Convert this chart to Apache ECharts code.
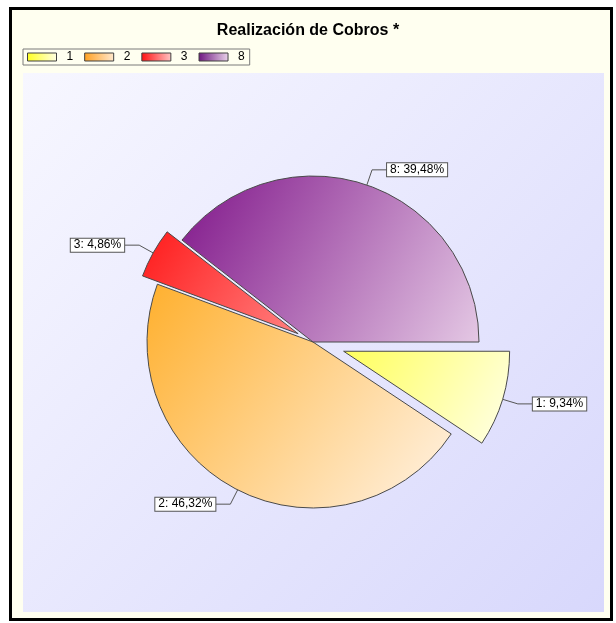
<!DOCTYPE html>
<html>
<head>
<meta charset="utf-8">
<title>Realización de Cobros</title>
<script src="https://cdn.jsdelivr.net/npm/echarts@6/dist/echarts.min.js"></script>
<style>
  html, body { margin: 0; padding: 0; background: #ffffff; }
  #chart { width: 616px; height: 623px; }
</style>
</head>
<body>
<div id="chart"></div>
<script>
// Collection categories and their share of the total (percent)
const categories = ['1', '2', '3', '8'];
const shares = [9.34, 46.32, 4.86, 39.48];

// Slice fills: [dark corner, light corner]
const sliceFill = {
  '1': ['#ffff5c', '#ffffe8'],
  '2': ['#ffb02e', '#fff3e6'],
  '3': ['#ff1a1a', '#ff8080'],
  '8': ['#80168a', '#e4c8e4']
};
// Legend swatch fills, shaded left to right
const swatchFill = {
  '1': ['#ffff20', '#ffffe4'],
  '2': ['#ffa020', '#ffe9cf'],
  '3': ['#ff1010', '#ffc4c4'],
  '8': ['#6e1680', '#ead4ea']
};

const G = echarts.graphic;
function diag(c) {
  return new G.LinearGradient(0, 0, 1, 1, [{ offset: 0, color: c[0] }, { offset: 1, color: c[1] }]);
}
function horiz(c) {
  return new G.LinearGradient(0, 0, 1, 0, [{ offset: 0, color: c[0] }, { offset: 1, color: c[1] }]);
}

function fmtPct(v) {
  return v.toFixed(2).replace('.', ',') + '%';
}

// Each pie layer draws only some slices; the others stay invisible so the
// angles still come from the full set of shares. Layers differ in how far
// their pulled-out slices are moved.
function pieLayer(shown, pulled, offset) {
  return {
    type: 'pie',
    center: [313, 342],
    radius: 166,
    startAngle: 0,
    clockwise: true,
    selectedMode: 'multiple',
    selectedOffset: offset,
    avoidLabelOverlap: false,
    silent: true,
    animation: false,
    itemStyle: { borderColor: '#4a4a4a', borderWidth: 1 },
    label: {
      show: true,
      position: 'outside',
      formatter: p => p.name + ': ' + fmtPct(p.value),
      fontFamily: 'Liberation Sans, Arial, sans-serif',
      fontSize: 12,
      lineHeight: 13,
      color: '#000',
      backgroundColor: '#ffffff',
      borderColor: '#555555',
      borderWidth: 1,
      padding: [0, 3, 0, 3],
      distanceToLabelLine: 0
    },
    labelLine: {
      show: true,
      length: 16,
      length2: 15,
      lineStyle: { color: '#555555', width: 1 }
    },
    emphasis: { disabled: true },
    data: categories.map((name, i) => {
      const item = { name: name, value: shares[i] };
      if (shown.indexOf(name) < 0) {
        item.itemStyle = { color: 'rgba(0,0,0,0)', borderWidth: 0 };
        item.label = { show: false };
        item.labelLine = { show: false };
        return item;
      }
      item.itemStyle = { color: diag(sliceFill[name]) };
      item.selected = pulled.indexOf(name) >= 0;
      return item;
    })
  };
}

const chart = echarts.init(document.getElementById('chart'), null, { renderer: 'canvas' });

chart.setOption({
  backgroundColor: '#ffffff',
  animation: false,
  title: {
    text: 'Realización de Cobros *',
    left: 'center',
    top: 23,
    padding: 0,
    textStyle: {
      fontFamily: 'Liberation Sans, Arial, sans-serif',
      fontSize: 16,
      fontWeight: 'bold',
      color: '#000000'
    }
  },
  legend: {
    left: 23,
    top: 49,
    orient: 'horizontal',
    padding: [1, 5, 1, 4],
    itemWidth: 29,
    itemHeight: 8,
    itemGap: 11,
    borderColor: '#7a7a7a',
    borderWidth: 1,
    selectedMode: false,
    textStyle: {
      fontFamily: 'Liberation Sans, Arial, sans-serif',
      fontSize: 12,
      lineHeight: 14,
      color: '#000000',
      padding: [0, 0, 0, 5]
    },
    data: categories.map(name => ({
      name: name,
      icon: 'rect',
      itemStyle: { color: horiz(swatchFill[name]), borderColor: '#404040', borderWidth: 1, opacity: 1 }
    }))
  },
  graphic: [
    {
      type: 'rect',
      z: -20,
      shape: { x: 10.5, y: 8.5, width: 601, height: 611 },
      style: { fill: '#fffff0', stroke: '#000000', lineWidth: 3 }
    },
    {
      type: 'rect',
      z: -19,
      shape: { x: 23, y: 73, width: 581, height: 539 },
      style: {
        fill: new G.LinearGradient(0, 0, 1, 1, [
          { offset: 0, color: '#f7f7ff' },
          { offset: 1, color: '#d8d8fc' }
        ])
      }
    }
  ],
  series: [
    pieLayer(['1', '2', '8'], ['1'], 32),
    pieLayer(['3'], ['3'], 17)
  ]
});
</script>
</body>
</html>
